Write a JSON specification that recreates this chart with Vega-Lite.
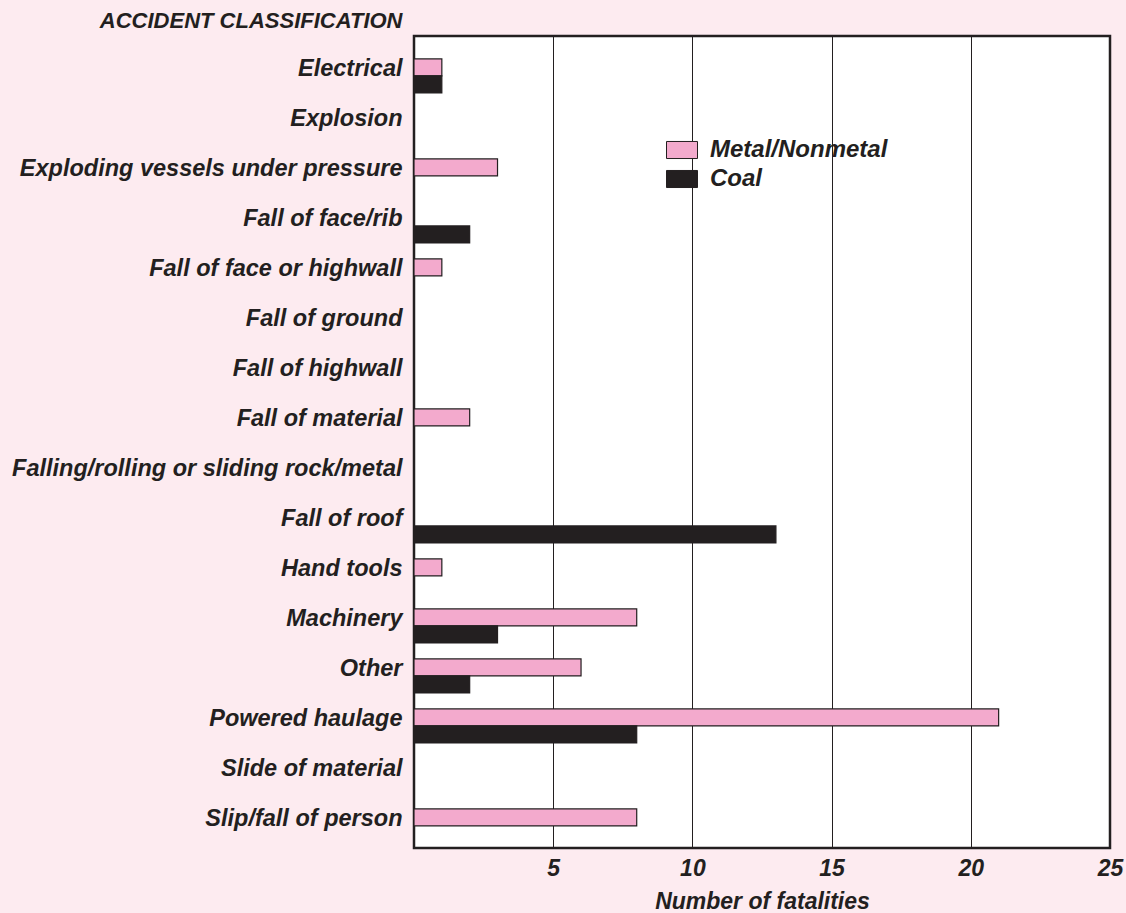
{
  "$schema": "https://vega.github.io/schema/vega-lite/v6.json",
  "width": 696,
  "height": 812,
  "autosize": "none",
  "padding": {"left": 414, "top": 36, "right": 16, "bottom": 65},
  "background": "#fdebf0",
  "config": {
    "view": {"fill": "white", "stroke": "#231f20", "strokeWidth": 2.5},
    "font": "Liberation Sans Narrow, Liberation Sans"
  },
  "data": {
    "values": [
      {"category": "Electrical", "sector": "Metal/Nonmetal", "fatalities": 1},
      {"category": "Electrical", "sector": "Coal", "fatalities": 1},
      {"category": "Exploding vessels under pressure", "sector": "Metal/Nonmetal", "fatalities": 3},
      {"category": "Fall of face/rib", "sector": "Coal", "fatalities": 2},
      {"category": "Fall of face or highwall", "sector": "Metal/Nonmetal", "fatalities": 1},
      {"category": "Fall of material", "sector": "Metal/Nonmetal", "fatalities": 2},
      {"category": "Fall of roof", "sector": "Coal", "fatalities": 13},
      {"category": "Hand tools", "sector": "Metal/Nonmetal", "fatalities": 1},
      {"category": "Machinery", "sector": "Metal/Nonmetal", "fatalities": 8},
      {"category": "Machinery", "sector": "Coal", "fatalities": 3},
      {"category": "Other", "sector": "Metal/Nonmetal", "fatalities": 6},
      {"category": "Other", "sector": "Coal", "fatalities": 2},
      {"category": "Powered haulage", "sector": "Metal/Nonmetal", "fatalities": 21},
      {"category": "Powered haulage", "sector": "Coal", "fatalities": 8},
      {"category": "Slip/fall of person", "sector": "Metal/Nonmetal", "fatalities": 8}
    ]
  },
  "mark": {"type": "bar", "stroke": "#231f20", "strokeWidth": 1.2},
  "encoding": {
    "y": {
      "field": "category",
      "type": "nominal",
      "scale": {
        "domain": ["Electrical", "Explosion", "Exploding vessels under pressure", "Fall of face/rib", "Fall of face or highwall", "Fall of ground", "Fall of highwall", "Fall of material", "Falling/rolling or sliding rock/metal", "Fall of roof", "Hand tools", "Machinery", "Other", "Powered haulage", "Slide of material", "Slip/fall of person"],
        "paddingInner": 0.32,
        "paddingOuter": 0.28,
        "align": 0.82
      },
      "axis": {
        "ticks": false,
        "domain": false,
        "labelFontSize": 23.5,
        "labelFontStyle": "italic",
        "labelFontWeight": "bold",
        "labelColor": "#231f20",
        "labelPadding": 12,
        "labelOffset": -7,
        "labelLimit": 500,
        "title": "ACCIDENT CLASSIFICATION",
        "titleAngle": 0,
        "titleAlign": "right",
        "titleBaseline": "alphabetic",
        "titleX": -12,
        "titleY": -9,
        "titleFontSize": 22,
        "titleFontStyle": "italic",
        "titleFontWeight": "bold",
        "titleColor": "#231f20"
      }
    },
    "yOffset": {
      "field": "sector",
      "type": "nominal",
      "scale": {"domain": ["Metal/Nonmetal", "Coal"]}
    },
    "x": {
      "field": "fatalities",
      "type": "quantitative",
      "scale": {"domain": [0, 25], "nice": false},
      "axis": {
        "values": [5, 10, 15, 20, 25],
        "grid": true,
        "gridColor": "#231f20",
        "gridWidth": 1,
        "gridOpacity": 1,
        "ticks": false,
        "domain": false,
        "labelFlush": false,
        "labelFontSize": 23,
        "labelFontStyle": "italic",
        "labelFontWeight": "bold",
        "labelColor": "#231f20",
        "labelPadding": 9,
        "title": "Number of fatalities",
        "titleFontSize": 23,
        "titleFontStyle": "italic",
        "titleFontWeight": "bold",
        "titleColor": "#231f20",
        "titlePadding": 10
      }
    },
    "color": {
      "field": "sector",
      "type": "nominal",
      "scale": {"domain": ["Metal/Nonmetal", "Coal"], "range": ["#f3aacd", "#231f20"]},
      "legend": {
        "title": null,
        "orient": "none",
        "legendX": 252,
        "legendY": 98,
        "symbolType": "M-1,-0.55H1V0.55H-1Z",
        "symbolSize": 961,
        "symbolStrokeColor": "#231f20",
        "symbolStrokeWidth": 1,
        "symbolOpacity": 1,
        "labelFontSize": 24,
        "labelFontStyle": "italic",
        "labelFontWeight": "bold",
        "labelColor": "#231f20",
        "labelLimit": 400,
        "rowPadding": 1,
        "labelOffset": 12
      }
    }
  }
}
